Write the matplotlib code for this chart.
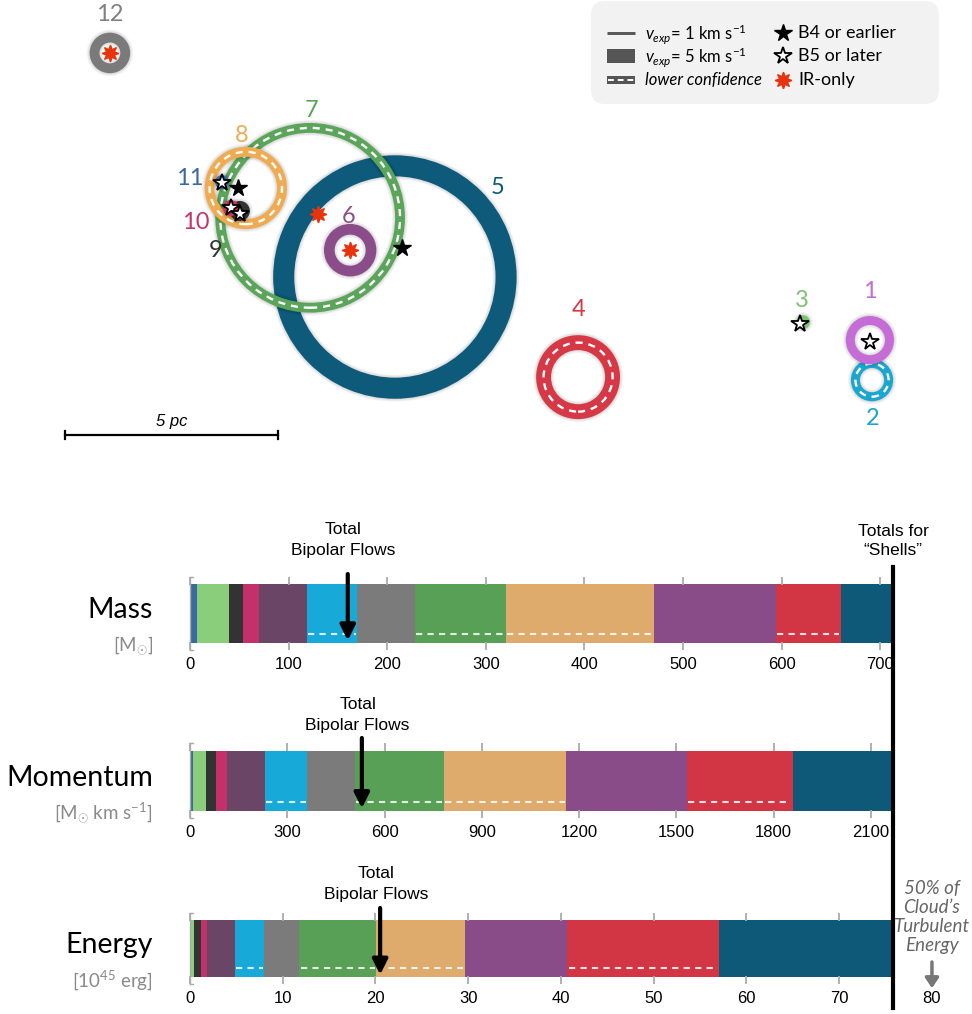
import matplotlib
matplotlib.use("Agg")
import matplotlib.pyplot as plt
import matplotlib.transforms as mtransforms
from matplotlib.patches import Annulus, Circle, Rectangle, FancyBboxPatch
from matplotlib.lines import Line2D
import numpy as np

plt.rcParams["font.family"] = ["Lato", "DejaVu Sans"]
plt.rcParams["mathtext.fontset"] = "custom"
plt.rcParams["mathtext.rm"] = "Lato"
plt.rcParams["mathtext.it"] = "Lato:italic"
helv = ["Liberation Sans", "DejaVu Sans"]

# ---- shell map data (pc, km/s) ----
shell_id = ["12", "5", "4", "7", "6", "8", "9", "10", "11", "2", "1", "3"]
shell_x = [2.58, 9.27, 13.57, 7.28, 8.22, 5.77, 5.63, 5.42, 5.21, 20.47, 20.42, 18.85]
shell_y = [9.79, 4.53, 2.18, 5.92, 5.16, 6.62, 6.08, 6.15, 6.76, 2.11, 3.05, 3.47]
shell_r = [0.36, 2.61, 0.81, 2.11, 0.49, 0.85, 0.12, 0.09, 0.08, 0.39, 0.46, 0.08]
shell_vexp = [3.5, 7.5, 5.3, 3.5, 3.8, 3.5, 3.5, 3.0, 2.5, 3.2, 3.2, 2.5]
shell_lowconf = [False, False, True, True, False, True, False, False, False, True, False, False]
label_x = [2.58, 11.67, 13.57, 7.32, 8.19, 5.68, 5.07, 4.60, 4.46, 20.49, 20.42, 18.83]
label_y = [10.70, 6.62, 3.76, 8.45, 5.96, 7.86, 5.15, 5.82, 6.85, 1.22, 4.18, 3.97]

b4_x = [5.59, 9.44]
b4_y = [6.62, 5.21]
b5_x = [5.21, 5.42, 5.63, 18.78, 20.42]
b5_y = [6.74, 6.15, 6.01, 3.43, 3.00]
ir_x = [2.58, 7.46, 8.22]
ir_y = [9.79, 6.01, 5.16]

map_colors = {"1": "#c56cd6", "2": "#1ba6d0", "3": "#7dc272", "4": "#d63845",
              "5": "#0d5a7a", "6": "#8b4c8a", "7": "#5aa55a", "8": "#f0aa50",
              "9": "#333333", "10": "#c8336b", "11": "#3a6aa6", "12": "#7a7a7a"}
label_colors = dict(map_colors, **{"12": "#808080"})
pc_per_kms = 0.066

# ---- bar data ----
bar_order = ["11", "3", "9", "10", "1", "2", "12", "7", "8", "6", "4", "5"]
bar_colors = ["#3b6aa0", "#8acd7b", "#333333", "#c3306a", "#6b4566", "#17aad9",
              "#7b7b7b", "#58a056", "#deab6c", "#8a4c88", "#d23644", "#0e5878"]
bar_lowconf = [False, False, False, False, False, True, False, True, True, False, True, False]
mass = [7.5, 32.1, 14.2, 16.2, 48.7, 50.7, 58.6, 92.0, 150.6, 123.4, 66.0, 53.0]
momentum = [10, 39, 31, 34, 117, 131, 147, 274, 378, 371, 327, 309]
energy = [0.15, 0.3, 0.7, 0.7, 2.95, 3.2, 3.8, 8.25, 9.55, 11.1, 16.35, 18.75]
bipolar = [160, 530, 20.5]
mass_ticks = [0, 100, 200, 300, 400, 500, 600, 700]
mom_ticks = [0, 300, 600, 900, 1200, 1500, 1800, 2100]
en_ticks = [0, 10, 20, 30, 40, 50, 60, 70]
turb_half = 80

W, H = 972, 1014
fig = plt.figure(figsize=(W / 100, H / 100), dpi=100)

# ---------------- map ----------------
ppc = 42.6
axm = fig.add_axes([0, (H - 470) / H, 1, 470 / H])
axm.set_xlim(0, W / ppc)
axm.set_ylim(0, 470 / ppc)
axm.axis("off")

for i, sid in enumerate(shell_id):
    c = map_colors[sid]
    w = shell_vexp[i] * pc_per_kms
    r = shell_r[i]
    z = 2 + i
    outer = r + w / 2
    # soft shadow
    for k in range(1, 5):
        d = 0.018 * k
        if r < w:
            axm.add_patch(Circle((shell_x[i], shell_y[i]), outer + d, color="k", alpha=0.035, lw=0, zorder=z))
        else:
            axm.add_patch(Annulus((shell_x[i], shell_y[i]), outer + d, w + 2 * d, color="k", alpha=0.035, lw=0, zorder=z))
    if r < w:
        axm.add_patch(Circle((shell_x[i], shell_y[i]), outer, color=c, lw=0, zorder=z))
    else:
        axm.add_patch(Annulus((shell_x[i], shell_y[i]), outer, w, color=c, lw=0, zorder=z))
    if shell_lowconf[i]:
        axm.add_patch(Circle((shell_x[i], shell_y[i]), r, fill=False, ec="white", lw=1.7,
                             ls=(0, (3, 2.5)), zorder=z))
    axm.text(label_x[i], label_y[i], sid, color=label_colors[sid], fontsize=17,
             ha="center", va="center", zorder=30)

axm.plot(b4_x, b4_y, ls="none", marker="*", ms=13, color="black", zorder=40)
axm.plot(b5_x, b5_y, ls="none", marker="*", ms=13, mfc="white", mec="black", mew=1.3, zorder=40)
axm.plot(ir_x, ir_y, ls="none", marker=(8, 1, 0), ms=12, color="#e8340e", zorder=40)

# scale bar
sb_x, sb_y, sb_len = 1.53, 0.82, 5
axm.plot([sb_x, sb_x + sb_len], [sb_y, sb_y], color="black", lw=1.6)
axm.plot([sb_x, sb_x], [sb_y - 0.1, sb_y + 0.1], color="black", lw=1.6)
axm.plot([sb_x + sb_len, sb_x + sb_len], [sb_y - 0.1, sb_y + 0.1], color="black", lw=1.6)
axm.text(sb_x + sb_len / 2, sb_y + 0.14, "5 pc", style="italic", family=helv, fontsize=12,
         ha="center", va="bottom")

# ---------------- legend ----------------
axl = fig.add_axes([590 / W, (H - 105) / H, 350 / W, 105 / H])
axl.set_xlim(0, 350)
axl.set_ylim(105, 0)
axl.axis("off")
axl.add_patch(FancyBboxPatch((1, 1), 348, 103, boxstyle="round,pad=0,rounding_size=14",
                             fc="#f2f2f2", ec="none"))
gcol = "#555555"
axl.plot([17, 45], [33, 33], color=gcol, lw=2.1, solid_capstyle="butt")
axl.add_patch(Rectangle((17, 49), 28, 14, fc=gcol, ec="none"))
axl.add_patch(Rectangle((17, 76), 28, 8, fc=gcol, ec="none"))
axl.plot([18, 44], [80, 80], color="white", lw=1.4, ls=(0, (3, 2)))
axl.text(55, 34, r"$v_{exp}$= 1 km s$^{-1}$", fontsize=12, va="center")
axl.text(55, 57, r"$v_{exp}$= 5 km s$^{-1}$", fontsize=12, va="center")
axl.text(55, 80, "lower confidence", style="italic", fontsize=12, va="center")
axl.plot([193], [33], marker="*", ms=13, color="black")
axl.plot([193], [56], marker="*", ms=13, mfc="white", mec="black", mew=1.3)
axl.plot([193], [80], marker=(8, 1, 0), ms=12, color="#e8340e")
axl.text(208, 33, "B4 or earlier", fontsize=13, va="center")
axl.text(208, 56, "B5 or later", fontsize=13, va="center")
axl.text(208, 80, "IR-only", fontsize=13, va="center")

# ---------------- bars ----------------
rows = [
    ("Mass", r"[M$_{\odot}$]", mass, mass_ticks, bipolar[0], 577, 650, 540, 574),
    ("Momentum", r"[M$_{\odot}$ km s$^{-1}$]", momentum, mom_ticks, bipolar[1], 743, 818, 715, 738),
    ("Energy", r"[10$^{45}$ erg]", energy, en_ticks, bipolar[2], 913, 984, 884, 908),
]
bar_axes = []
for name, unit, vals, ticks, bip, ytop, ybot, ytxt, yarr in rows:
    hpx = ybot - ytop
    ax = fig.add_axes([190 / W, (H - ybot) / H, 703 / W, hpx / H])
    bar_axes.append(ax)
    total = sum(vals)
    lefts = np.concatenate([[0], np.cumsum(vals)[:-1]])
    ax.barh(0.5, vals, left=lefts, height=0.8, color=bar_colors, lw=0)
    for l, v, lc in zip(lefts, vals, bar_lowconf):
        if lc:
            ax.plot([l + total * 0.002, l + v - total * 0.002], [0.22, 0.22], color="white",
                    alpha=0.85, lw=1.5, ls=(0, (3, 2.5)))
    ax.set_xlim(0, total)
    ax.set_ylim(0, 1)
    ax.set_xticks([t for t in ticks if t <= total])
    ax.set_yticks([])
    ax.tick_params(axis="x", direction="in", top=True, bottom=True, length=5.5, width=1.3,
                   color="#aaaaaa", labelsize=12, pad=5, labelfontfamily="Liberation Sans")
    for s in ["top", "right", "bottom"]:
        ax.spines[s].set_visible(False)
    ax.spines["left"].set_color("#aaaaaa")
    ax.spines["left"].set_linewidth(1.0)
    ax.plot([0, 0.004], [0, 0], transform=ax.transAxes, color="#aaaaaa", lw=1.0, clip_on=False)
    ax.plot([0, 0.004], [1, 1], transform=ax.transAxes, color="#aaaaaa", lw=1.0, clip_on=False)
    # bipolar flows arrow
    ax.annotate("", xy=(bip, 0.13), xycoords=("data", "axes fraction"),
                xytext=(bip, (ybot - yarr) / hpx), textcoords=("data", "axes fraction"),
                arrowprops=dict(arrowstyle="-|>,head_length=0.9,head_width=0.45", lw=3,
                                color="black", shrinkA=0, shrinkB=0))
    ax.text(bip - total * 0.006, (ybot - ytxt) / hpx, "Total\nBipolar Flows",
            transform=ax.get_xaxis_transform(),
            ha="center", va="center", fontsize=12.5, family=helv, linespacing=1.45)
    # row titles
    ymid = (ytop + ybot) / 2
    fig.text(153 / W, (H - (ymid - 3)) / H, name, fontsize=20.5, ha="right", va="center")
    fig.text(153 / W, (H - (ymid + 32)) / H, unit, fontsize=13.5, ha="right", va="center",
             color="#8a8a8a")

ax_mass, ax_en = bar_axes[0], bar_axes[2]
# totals line for shells
tr = mtransforms.blended_transform_factory(ax_mass.transData, fig.transFigure)
fig.add_artist(Line2D([sum(mass), sum(mass)], [(H - 567) / H, (H - 1008) / H],
                      transform=tr, color="black", lw=3))
fig.text(sum(mass), (H - 541) / H, "Totals for\n\u201cShells\u201d", transform=tr, ha="center",
         va="center", fontsize=12.5, family=helv, linespacing=1.4)

# 50% turbulent energy
ax_en.annotate(str(turb_half), xy=(turb_half, 0), xycoords=("data", "axes fraction"),
               xytext=(0, -5), textcoords="offset points", ha="center", va="top",
               fontsize=12, family="Liberation Sans", annotation_clip=False)
ax_en.annotate("", xy=(turb_half, -0.06), xycoords=("data", "axes fraction"),
               xytext=(turb_half, 0.31), textcoords=("data", "axes fraction"),
               arrowprops=dict(arrowstyle="-|>,head_length=0.6,head_width=0.4", lw=2.5,
                               color="#777777", shrinkA=0, shrinkB=0), annotation_clip=False)
ax_en.text(turb_half, 0.94, "50% of\nCloud\u2019s\nTurbulent\nEnergy", transform=ax_en.get_xaxis_transform(),
           ha="center", va="center", fontsize=13.5, style="italic", color="#666666",
           linespacing=1.15, clip_on=False)

fig.savefig("out.png", dpi=100)
